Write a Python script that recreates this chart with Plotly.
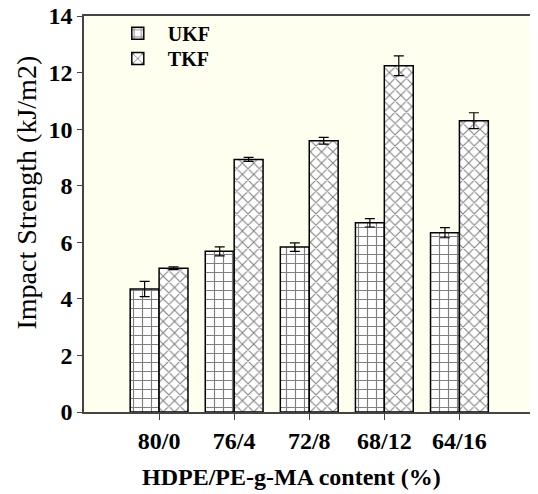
import plotly.graph_objects as go

categories = ["80/0", "76/4", "72/8", "68/12", "64/16"]
ukf_values = [4.35, 5.68, 5.83, 6.69, 6.34]
ukf_errors = [0.27, 0.16, 0.15, 0.15, 0.18]
tkf_values = [5.08, 8.93, 9.59, 12.24, 10.30]
tkf_errors = [0.05, 0.07, 0.12, 0.35, 0.28]

font_family = "Liberation Serif, Times New Roman, serif"

fig = go.Figure()
fig.add_trace(go.Bar(
    name="UKF", x=categories, y=ukf_values, legend="legend",
    error_y=dict(type="data", array=ukf_errors, color="black", thickness=1.2, width=5),
    marker=dict(color="white", line=dict(color="black", width=1.5),
                pattern=dict(shape="+", fgcolor="black", bgcolor="white", size=9, solidity=0.24)),
))
fig.add_trace(go.Bar(
    name="TKF", x=categories, y=tkf_values, legend="legend2",
    error_y=dict(type="data", array=tkf_errors, color="black", thickness=1.2, width=5),
    marker=dict(color="white", line=dict(color="black", width=1.5),
                pattern=dict(shape="x", fgcolor="black", bgcolor="white", size=8, solidity=0.25)),
))

legend_style = dict(xanchor="left", yanchor="top", bgcolor="rgba(0,0,0,0)",
                    font=dict(size=20, family=font_family, weight="bold", color="black"),
                    itemwidth=50)

# page body has an 8px default margin, so the figure is offset by 8px
plot_top, plot_bottom = 16, 412
plot_h = plot_bottom - plot_top
fig.update_layout(
    width=530, height=486,
    margin=dict(l=76, r=5, t=plot_top - 8, b=82),
    paper_bgcolor="white",
    plot_bgcolor="#FFFFF0",
    barmode="group",
    bargap=0.23,
    bargroupgap=0,
    font=dict(family=font_family, color="black"),
    showlegend=True,
    legend=dict(x=0.053, y=(plot_bottom - 13.7) / plot_h, **legend_style),
    legend2=dict(x=0.053, y=(plot_bottom - 39) / plot_h, **legend_style),
    xaxis=dict(
        type="category", range=[-1.0, 4.98], automargin=False,
        showline=True, linecolor="#444", linewidth=1.5, mirror=True,
        ticks="outside", ticklen=6, tickcolor="#444",
        tickfont=dict(size=24, family=font_family, weight="bold"),
        showgrid=False,
    ),
    yaxis=dict(
        range=[0, 14], dtick=2, automargin=False,
        showline=True, linecolor="#444", linewidth=1.5, mirror=True,
        ticks="outside", ticklen=5, tickcolor="#444",
        tickfont=dict(size=24, family=font_family, weight="bold"),
        ticklabeloverflow="allow",
        showgrid=False, zeroline=False,
    ),
    annotations=[
        dict(
            text="Impact Strength (kJ/m2)", textangle=-90,
            xref="paper", yref="paper", x=-76 / 449, y=(plot_bottom - 193) / plot_h,
            xanchor="left", yanchor="middle", showarrow=False,
            font=dict(size=28, family=font_family, color="black"),
        ),
        dict(
            text="HDPE/PE-g-MA content (%)",
            xref="paper", yref="paper", x=(291 - 84) / 449, y=(plot_bottom - 477) / plot_h,
            xanchor="center", yanchor="middle", showarrow=False,
            font=dict(size=24, family=font_family, weight="bold", color="black"),
        ),
    ],
)

fig.write_html("out.html")
